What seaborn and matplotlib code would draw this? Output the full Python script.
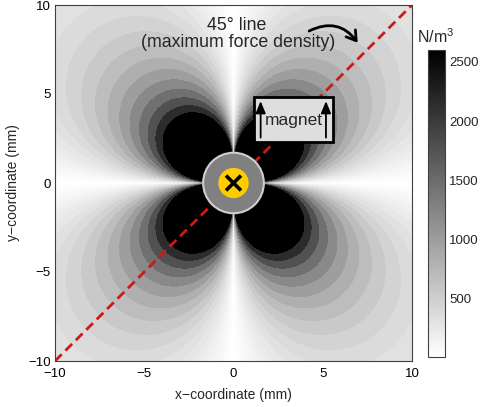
import numpy as np
import matplotlib
matplotlib.use("Agg")
import matplotlib.pyplot as plt
import seaborn as sns
from matplotlib.patches import Circle, Rectangle, FancyArrowPatch
from matplotlib.colors import Normalize
from matplotlib.cm import ScalarMappable

# ---------------- data ----------------
x_ticks = [-10, -5, 0, 5, 10]
y_ticks = [-10, -5, 0, 5, 10]
cbar_ticks = [500, 1000, 1500, 2000, 2500]
cbar_min, cbar_max = 10, 2600          # N/m^3, colour scale limits
lobe_peak = 2600                        # level at edge of saturated lobes
lobe_reach_mm = 4.9                     # radius of the saturated lobe on the 45 deg line
angular_exponent = 1.0
n_levels = 30
line45_x = [-10, 10]
line45_y = [-10, 10]
shield_radius = 1.7
wire_radius = 0.85
magnet_x0, magnet_x1 = 1.15, 5.57
magnet_y0, magnet_y1 = 2.3, 4.83
arrow_xs = [1.52, 5.18]
arrow_y0, arrow_y1 = 2.55, 4.6

# ---------------- style ----------------
sns.set_theme(style="ticks")
plt.rcParams['font.family'] = ['Liberation Sans', 'DejaVu Sans']
plt.rcParams['mathtext.fontset'] = 'custom'
plt.rcParams['mathtext.rm'] = 'Liberation Sans'
plt.rcParams['mathtext.it'] = 'Liberation Sans'

fig = plt.figure(figsize=(4.82, 4.07), dpi=100)
ax = fig.add_axes([55/482, 46/407, 357/482, 356/407])
cax = fig.add_axes([428/482, 50/407, 17/482, 307/407])

# force-density field
g = np.linspace(-10, 10, 801)
X, Y = np.meshgrid(g, g)
R2 = X**2 + Y**2 + 1e-12
S = np.abs(2 * X * Y / R2)
F = lobe_peak * lobe_reach_mm**2 * S**angular_exponent / R2

levels = np.concatenate([[0], np.geomspace(cbar_min, cbar_max, n_levels), [1e12]])
cmap = plt.get_cmap('gray_r')
norm = Normalize(cbar_min, cbar_max)
colors = [cmap(norm(max(l, cbar_min))) for l in levels[:-1]]
ax.contourf(X, Y, F, levels=levels, colors=colors, zorder=1)

# 45 degree line
red = '#cc1a1a'
sns.lineplot(x=line45_x, y=line45_y, ax=ax, color=red, lw=2.0,
             linestyle=(0, (3.4, 1.9)), zorder=3, legend=False)

# wire
ax.add_patch(Circle((0, 0), shield_radius, facecolor='#808080',
                    edgecolor='#cfcfcf', lw=1.5, zorder=4))
ax.add_patch(Circle((0, 0), wire_radius, facecolor='#ffcc00',
                    edgecolor='none', zorder=5))
d = 0.42
ax.plot([-d, d], [-d, d], color='black', lw=2.6, zorder=6, solid_capstyle='butt')
ax.plot([-d, d], [d, -d], color='black', lw=2.6, zorder=6, solid_capstyle='butt')

# magnet box
ax.add_patch(Rectangle((magnet_x0, magnet_y0), magnet_x1 - magnet_x0,
                       magnet_y1 - magnet_y0, facecolor='#dedede',
                       edgecolor='black', lw=2, zorder=7))
for ax_x in arrow_xs:
    ax.annotate('', xy=(ax_x, arrow_y1), xytext=(ax_x, arrow_y0),
                arrowprops=dict(arrowstyle='-|>,head_length=0.6,head_width=0.25',
                                color='black', lw=1.3, shrinkA=0, shrinkB=0),
                zorder=8)
ax.text((magnet_x0 + magnet_x1) / 2 + 0.02, 3.5, 'magnet', ha='center',
        va='center', fontsize=12.5, zorder=8)

# annotation
ax.text(0.2, 8.85, '45° line', ha='center', va='center', fontsize=12.8, zorder=8)
ax.text(0.25, 7.87, '(maximum force density)', ha='center', va='center',
        fontsize=12.8, zorder=8)
ax.add_patch(FancyArrowPatch((4.1, 8.47), (7.05, 7.75),
                             connectionstyle='arc3,rad=-0.45',
                             arrowstyle='->,head_length=0.55,head_width=0.35',
                             mutation_scale=12, lw=2, color='black', zorder=8))

ax.set_xlim(-10, 10)
ax.set_ylim(-10, 10)
ax.set_xticks(x_ticks)
ax.set_yticks(y_ticks)
ax.set_xlabel('x\u2212coordinate (mm)', fontsize=10, labelpad=6)
ax.set_ylabel('y\u2212coordinate (mm)', fontsize=10, labelpad=6)
ax.tick_params(axis='x', pad=5)
ax.tick_params(axis='y', pad=3)
ax.tick_params(direction='in', top=True, right=True, length=3.5, width=0.7,
               labelsize=9.5, colors='black')
for s in ax.spines.values():
    s.set_color('#404040')
    s.set_linewidth(0.8)
    s.set_zorder(10)

# colorbar
sm = ScalarMappable(norm=norm, cmap=cmap)
cb = fig.colorbar(sm, cax=cax)
cb.set_ticks(cbar_ticks)
cb.outline.set_edgecolor('#404040')
cb.outline.set_linewidth(0.8)
cax.tick_params(direction='in', left=True, right=True, length=2.5, width=0.6,
                labelsize=9.5, pad=3)
fig.text(436/482, 1 - 37/407, r'N/m$^3$', ha='center', va='center', fontsize=11.5)

fig.savefig('out.png', dpi=100)
